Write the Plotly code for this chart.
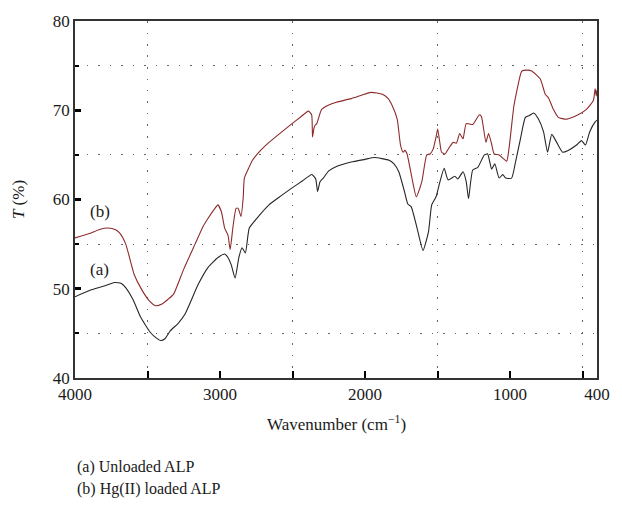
import plotly.graph_objects as go

# (b) Hg(II) loaded ALP
wn_b = [4000, 3900, 3820, 3773, 3720, 3690, 3650, 3592, 3540, 3490, 3444, 3400, 3360, 3320, 3250, 3172,
        3116, 3082, 3040, 3014, 2990, 2968, 2945, 2930, 2910, 2889, 2875, 2855, 2840, 2832, 2800, 2776,
        2720, 2662, 2580, 2503, 2440, 2390, 2368, 2362, 2352, 2345, 2333, 2299, 2250, 2197, 2095, 2020,
        1959, 1880, 1840, 1812, 1778, 1755, 1737, 1725, 1710, 1676, 1646, 1608, 1574, 1551, 1529,
        1510, 1499, 1485, 1472, 1449, 1420, 1392, 1370, 1347, 1324, 1302, 1257, 1211, 1197, 1166, 1148,
        1128, 1109, 1075, 1023, 1007, 973, 950, 928, 918, 880, 850, 791, 757, 735, 701, 667, 609, 541,
        473, 425, 413, 405, 400]
t_b = [55.7, 56.2, 56.7, 56.8, 56.6, 56.2, 55.0, 51.6, 49.9, 48.7, 48.1, 48.3, 48.8, 49.4, 52.2, 55.0,
       57.0, 57.9, 58.9, 59.4, 58.6, 56.8, 56.0, 54.4, 57.0, 59.0, 59.0, 58.1, 60.2, 62.4, 63.6, 64.4,
       65.5, 66.4, 67.5, 68.5, 69.3, 69.9, 69.5, 67.0, 68.0, 68.3, 68.5, 70.1, 70.6, 70.9, 71.3, 71.7,
       72.0, 71.8, 71.3, 70.5, 69.0, 66.1, 65.3, 65.5, 65.1, 62.4, 60.3, 62.0, 65.0, 65.1, 65.7,
       67.0, 67.9, 66.5, 65.3, 65.1, 65.8, 66.4, 66.3, 67.4, 66.8, 68.5, 68.4, 69.5, 69.3, 66.4, 67.4,
       66.3, 65.1, 65.0, 64.3, 65.7, 70.5, 72.4, 74.0, 74.4, 74.5, 74.4, 73.5, 71.8, 71.4, 70.1, 69.2,
       69.0, 69.4, 70.1, 71.1, 72.4, 71.6, 72.3]

# (a) Unloaded ALP
wn_a = [4000, 3900, 3800, 3728, 3680, 3649, 3600, 3547, 3480, 3440, 3408, 3380, 3342, 3290, 3240, 3150,
        3082, 3014, 2968, 2945, 2923, 2896, 2870, 2848, 2825, 2798, 2740, 2662, 2580, 2503, 2430, 2367,
        2340, 2327, 2310, 2288, 2250, 2197, 2095, 2000, 1936, 1834, 1800,
        1767, 1728, 1705, 1682, 1641, 1600, 1562, 1540, 1510, 1483, 1454, 1427, 1381, 1360, 1324, 1302,
        1286, 1257, 1222, 1177, 1154, 1127, 1105, 1075, 1050, 1030, 989, 962, 928, 894, 867, 837, 803,
        769, 741, 712, 678, 637, 599, 541, 507, 480, 450, 413, 400]
t_a = [49.1, 49.8, 50.3, 50.7, 50.6, 50.1, 48.8, 46.8, 45.1, 44.5, 44.2, 44.4, 45.3, 46.1, 47.2, 50.5,
       52.4, 53.5, 53.9, 53.5, 52.7, 51.2, 53.5, 54.6, 54.0, 56.8, 58.0, 59.4, 60.4, 61.3, 62.1, 62.8,
       62.3, 60.9, 62.0, 62.4, 63.2, 63.7, 64.2, 64.5, 64.7, 64.4, 64.0,
       63.1, 60.9, 59.5, 59.2, 56.8, 54.3, 56.4, 59.4, 60.3, 62.0, 63.5, 62.2, 62.6, 62.3, 63.1, 62.0,
       60.1, 63.3, 63.6, 65.0, 65.1, 63.4, 64.0, 62.4, 62.8, 62.4, 62.4, 64.2, 66.8, 69.2, 69.4, 69.7,
       69.0, 67.6, 65.3, 67.3, 66.4, 65.3, 65.5, 66.1, 66.6, 66.1, 67.6, 68.7, 68.9]

x_ticks = [4000, 3000, 2000, 1000, 400]
x_minor = [3500, 2500, 1500, 500]
y_ticks = [40, 50, 60, 70, 80]
y_minor = [45, 55, 65, 75]

FONT = "Liberation Serif"
GRIDDASH = "1.5px,10px"
TXT = "#1a1a1a"

fig = go.Figure()
fig.add_trace(go.Scatter(x=wn_a, y=t_a, mode="lines",
                         line=dict(color="#262626", width=1.1, shape="spline", smoothing=0.5),
                         showlegend=False))
fig.add_trace(go.Scatter(x=wn_b, y=t_b, mode="lines",
                         line=dict(color="#8e2a2a", width=1.1, shape="spline", smoothing=0.5),
                         showlegend=False))

fig.update_layout(
    width=622, height=524,
    margin=dict(l=75, r=18, t=18, b=146),
    paper_bgcolor="white", plot_bgcolor="white",
    font=dict(family=FONT, size=17, color=TXT),
    xaxis=dict(range=[4000, 400], autorange=False, tickmode="array", tickvals=x_ticks,
               ticktext=[str(v) for v in x_ticks], ticks="inside", ticklen=7, tickwidth=2,
               tickcolor="black", showgrid=False, zeroline=False, showline=True, mirror=True,
               linecolor="#333", linewidth=1.5,
               minor=dict(tickmode="array", tickvals=x_minor, ticks="inside", ticklen=7,
                          tickwidth=2, tickcolor="black", showgrid=True, gridcolor="#666",
                          gridwidth=1, griddash=GRIDDASH)),
    yaxis=dict(range=[40, 80], autorange=False, tickmode="array", tickvals=y_ticks,
               ticks="inside", ticklen=6, tickwidth=2.5, tickcolor="black", showgrid=False,
               zeroline=False, showline=True, mirror=True, linecolor="#333", linewidth=1.5,
               minor=dict(tickmode="array", tickvals=y_minor, ticks="inside", ticklen=4,
                          tickwidth=2, tickcolor="black", showgrid=True, gridcolor="#666",
                          gridwidth=1, griddash=GRIDDASH)),
    annotations=[
        dict(text="(b)", x=3830, y=58.6, xref="x", yref="y", showarrow=False,
             font=dict(family=FONT, size=17, color=TXT)),
        dict(text="(a)", x=3830, y=52.2, xref="x", yref="y", showarrow=False,
             font=dict(family=FONT, size=17, color=TXT)),
        dict(text="Wavenumber (cm<sup>\u22121</sup>)", x=0.5, y=-0.125, xref="paper", yref="paper",
             showarrow=False, xanchor="center", yanchor="middle",
             font=dict(family=FONT, size=17, color=TXT)),
        dict(text="<i>T</i> (%)", x=-0.108, y=0.5, xref="paper", yref="paper", textangle=-90,
             showarrow=False, xanchor="center", yanchor="middle",
             font=dict(family=FONT, size=17, color=TXT)),
        dict(text="(a) Unloaded ALP", x=0.0, y=-0.25, xref="paper", yref="paper",
             showarrow=False, xanchor="left", yanchor="middle",
             font=dict(family=FONT, size=16, color=TXT)),
        dict(text="(b) Hg(II) loaded ALP", x=0.0, y=-0.311, xref="paper", yref="paper",
             showarrow=False, xanchor="left", yanchor="middle",
             font=dict(family=FONT, size=16, color=TXT)),
    ],
)

fig.write_html("out.html")
